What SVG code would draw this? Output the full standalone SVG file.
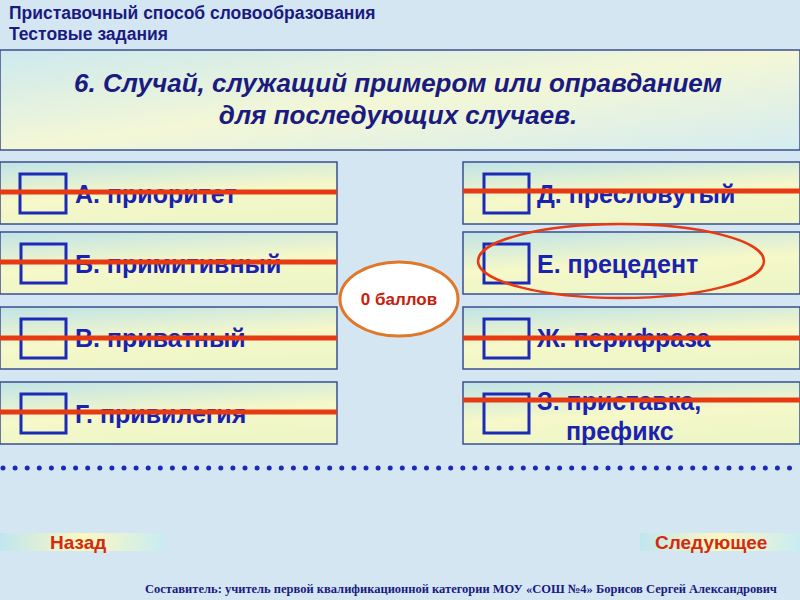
<svg xmlns="http://www.w3.org/2000/svg" width="800" height="600" viewBox="0 0 800 600">
<defs>
<linearGradient id="g" x1="0" y1="0" x2="0.3" y2="1"><stop offset="0" stop-color="#bfe3e8"/><stop offset="0.6" stop-color="#f6f8c8"/><stop offset="1" stop-color="#eef6c8"/></linearGradient>
<linearGradient id="q" x1="0" y1="0" x2="1" y2="1"><stop offset="0" stop-color="#cde9ef"/><stop offset="0.5" stop-color="#f3f7d6"/><stop offset="1" stop-color="#d5ecf0"/></linearGradient>
<linearGradient id="n" x1="0" y1="0" x2="1" y2="0"><stop offset="0" stop-color="#bfe6ef"/><stop offset="0.5" stop-color="#fbf8c0"/><stop offset="1" stop-color="#c8ecf3"/></linearGradient>
</defs>
<style>
.b{fill:url(#g);stroke:#3a4f8f;stroke-width:1.5}
.c{fill:none;stroke:#1c2ab8;stroke-width:3}
.t{font-family:"Liberation Sans",Arial,sans-serif;font-weight:bold;font-size:25px;fill:#1a22b0}
.qq{font-family:"Liberation Sans",Arial,sans-serif;font-weight:bold;font-style:italic;font-size:26px;fill:#1a1a80}
.r{stroke:#e63a12;stroke-width:5}
.h{font-family:"Liberation Sans",Arial,sans-serif;font-weight:bold;font-size:17.5px;fill:#1a1a80}
.nav{font-family:"Liberation Sans",Arial,sans-serif;font-weight:bold;font-size:19px;fill:#d42a10}
</style>
<rect width="800" height="600" fill="#d5e6f3"/>
<text class="h" x="9" y="19">Приставочный способ словообразования</text>
<text class="h" x="9" y="40">Тестовые задания</text>
<g id="question"><rect x="0" y="50" width="800" height="100" fill="url(#q)" stroke="#3a4f8f" stroke-width="1.5"/>
<text class="qq" x="398" y="92" text-anchor="middle">6. Случай, служащий примером или оправданием</text>
<text class="qq" x="398" y="124" text-anchor="middle">для последующих случаев.</text></g>
<g id="a"><rect class="b" x="0" y="162" width="337" height="62"/><rect class="c" x="20" y="174" width="46" height="39"/><text class="t" x="75" y="203">А. приоритет</text></g>
<g id="b"><rect class="b" x="0" y="232" width="337" height="62"/><rect class="c" x="21" y="244" width="45" height="39"/><text class="t" x="75" y="273">Б. примитивный</text></g>
<g id="v"><rect class="b" x="0" y="307" width="337" height="62"/><rect class="c" x="21" y="319" width="45" height="39"/><text class="t" x="75" y="347">В. приватный</text></g>
<g id="g1"><rect class="b" x="0" y="382" width="337" height="62"/><rect class="c" x="21" y="394" width="45" height="39"/><text class="t" x="75" y="423">Г. привилегия</text></g>
<g id="d"><rect class="b" x="463" y="162" width="337" height="62"/><rect class="c" x="484" y="174" width="45" height="39"/><text class="t" x="537" y="203">Д. пресловутый</text></g>
<g id="e"><rect class="b" x="463" y="232" width="337" height="62"/><rect class="c" x="484" y="244" width="45" height="39"/><text class="t" x="537" y="273">Е. прецедент</text></g>
<g id="zh"><rect class="b" x="463" y="307" width="337" height="62"/><rect class="c" x="484" y="319" width="45" height="39"/><text class="t" x="537" y="347">Ж. перифраза</text></g>
<g id="z"><rect class="b" x="463" y="382" width="337" height="62"/><rect class="c" x="484" y="394" width="45" height="39"/><text class="t" x="537" y="410">З. приставка,</text><text class="t" x="566" y="440">префикс</text></g>
<g id="marks">
<line class="r" x1="0" y1="192" x2="337" y2="192"/>
<line class="r" x1="0" y1="262" x2="337" y2="262"/>
<line class="r" x1="0" y1="338" x2="337" y2="338"/>
<line class="r" x1="0" y1="412" x2="337" y2="412"/>
<line class="r" x1="463" y1="191" x2="800" y2="191"/>
<line class="r" x1="463" y1="338" x2="800" y2="338"/>
<line class="r" x1="463" y1="400" x2="800" y2="400"/>
<ellipse cx="621" cy="261" rx="143" ry="37" fill="none" stroke="#e63a12" stroke-width="2.5"/>
</g>
<g id="score"><ellipse cx="399" cy="299" rx="59" ry="37" fill="#fff" stroke="#e0782a" stroke-width="3"/><text x="399" y="305" text-anchor="middle" font-family="Liberation Sans,Arial,sans-serif" font-weight="bold" font-size="17" fill="#c8200c">0 баллов</text></g>
<line x1="3" y1="468" x2="800" y2="468" stroke="#1c2ab8" stroke-width="5" stroke-linecap="round" stroke-dasharray="0 12.1"/>
<rect x="0" y="533" width="166" height="18" fill="url(#n)"/>
<text class="nav" x="50" y="549">Назад</text>
<rect x="640" y="533" width="160" height="18" fill="url(#n)"/>
<text class="nav" x="655" y="549">Следующее</text>
<text x="145" y="593" font-family="Liberation Serif,serif" font-size="12.5" font-weight="bold" fill="#1a1a80">Составитель: учитель первой квалификационной категории МОУ «СОШ №4» Борисов Сергей Александрович</text>
</svg>
